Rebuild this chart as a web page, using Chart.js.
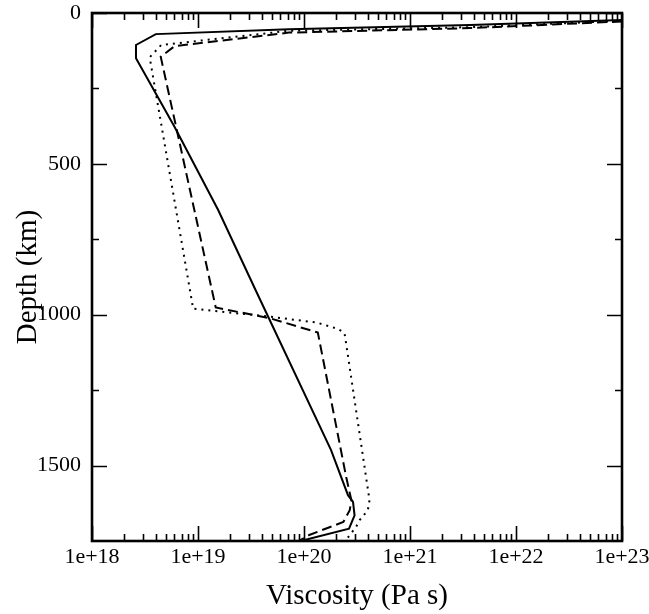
<!DOCTYPE html>
<html><head><meta charset="utf-8">
<script src="https://cdn.jsdelivr.net/npm/chart.js@4/dist/chart.umd.min.js"></script>
<style>html,body{margin:0;padding:0;background:#fff}canvas{display:block}</style>
</head><body>
<canvas id="c" width="649" height="614"></canvas>
<script>
// Axis ticks
const xTickValues = [1e18, 1e19, 1e20, 1e21, 1e22, 1e23];
const xTickLabels = ['1e+18', '1e+19', '1e+20', '1e+21', '1e+22', '1e+23'];
const yTickValues = [0, 500, 1000, 1500];
const yTickLabels = ['0', '500', '1000', '1500'];
const yMinorTicks = [250, 750, 1250];

// Solid profile
const solidVisc  = [1e23, 3.7e21, 7.2e19, 4.0e18, 2.6e18, 2.6e18, 6.0e18, 1.55e19, 3.5e19, 1.8e20, 2.6e20, 2.9e20, 3.0e20, 2.66e20, 9.3e19];
const solidDepth = [23,   40,     54,     70,     106,    150,    377,    653,     919,    1449,   1598,   1620,   1665,   1709,    1750];

// Dashed profile
const dashedVisc  = [1e23, 3.7e21, 7.2e19, 6.0e18, 4.45e18, 1.47e19, 4.8e19, 1.35e20, 2.5e20, 2.8e20, 2.7e20, 2.35e20, 1.12e20, 8.9e19];
const dashedDepth = [28,   50,     65,     110,    145,     976,     1012,   1059,    1538,   1615,   1648,   1687,    1730,    1750];

// Dotted profile
const dottedVisc  = [1e23, 3.7e21, 7.2e19, 4.5e18, 3.5e18, 9.0e18, 4.9e19, 1.32e20, 2.05e20, 2.35e20, 2.43e20, 4.15e20, 4.0e20, 3.35e20, 3.1e20, 2.45e20];
const dottedDepth = [26,   47,     59,     106,    147,    980,    1007,   1026,    1046,    1057,    1068,    1615,    1648,   1681,    1703,   1750];

const toPts = (xs, ys) => xs.map((v, i) => ({x: v, y: ys[i]}));

const frameTicks = {
  id: 'frameTicks',
  afterDatasetsDraw(chart) {
    const {ctx, chartArea: a, scales: {x, y}} = chart;
    ctx.save();
    ctx.strokeStyle = '#000';
    ctx.lineCap = 'butt';
    const MAJ = 15, MIN = 7;
    ctx.lineWidth = 1.6;
    ctx.beginPath();
    const xMinor = [];
    for (let k = 0; k < xTickValues.length - 1; k++) {
      for (let m = 2; m <= 9; m++) xMinor.push(m * xTickValues[k]);
    }
    const xt = xTickValues.map(v => [v, MAJ]).concat(xMinor.map(v => [v, MIN]));
    xt.forEach(([v, L]) => {
      const px = Math.round(x.getPixelForValue(v)) + 0.5;
      ctx.moveTo(px, a.bottom); ctx.lineTo(px, a.bottom - L);
      ctx.moveTo(px, a.top); ctx.lineTo(px, a.top + L);
    });
    const yt = yTickValues.map(v => [v, MAJ]).concat(yMinorTicks.map(v => [v, MIN]));
    yt.forEach(([v, L]) => {
      const py = Math.round(y.getPixelForValue(v)) + 0.5;
      ctx.moveTo(a.left, py); ctx.lineTo(a.left + L, py);
      ctx.moveTo(a.right, py); ctx.lineTo(a.right - L, py);
    });
    ctx.stroke();
    ctx.lineWidth = 2.6;
    ctx.strokeRect(a.left, a.top, a.right - a.left, a.bottom - a.top);
    ctx.restore();
  }
};

const serif = 'Liberation Serif';

new Chart(document.getElementById('c'), {
  type: 'scatter',
  data: {
    datasets: [
      {data: toPts(solidVisc, solidDepth), showLine: true, borderColor: '#000', borderWidth: 2, pointRadius: 0, tension: 0},
      {data: toPts(dashedVisc, dashedDepth), showLine: true, borderColor: '#000', borderWidth: 2, borderDash: [10, 5], pointRadius: 0, tension: 0},
      {data: toPts(dottedVisc, dottedDepth), showLine: true, borderColor: '#000', borderWidth: 2, borderDash: [2, 5], pointRadius: 0, tension: 0}
    ]
  },
  options: {
    responsive: false,
    animation: false,
    layout: {padding: {top: 13, right: 27, left: 0, bottom: 0}},
    plugins: {legend: {display: false}, tooltip: {enabled: false}},
    scales: {
      x: {
        type: 'logarithmic',
        min: 1e18, max: 1e23,
        afterBuildTicks: s => { s.ticks = xTickValues.map(v => ({value: v})); },
        afterFit: s => { s.height = 73; s.paddingLeft = 0; s.paddingRight = 0; },
        grid: {display: false, drawTicks: false},
        border: {display: false},
        ticks: {
          autoSkip: false, maxRotation: 0, padding: 3, color: '#000',
          font: {family: serif, size: 22},
          callback: (v, i) => xTickLabels[i]
        },
        title: {display: true, text: 'Viscosity (Pa s)', color: '#000', font: {family: serif, size: 29}, padding: {top: 0, bottom: 0}}
      },
      y: {
        type: 'linear',
        reverse: true,
        min: 0, max: 1750,
        afterBuildTicks: s => { s.ticks = yTickValues.map(v => ({value: v})); },
        afterFit: s => { s.width = 92; s.paddingTop = 0; s.paddingBottom = 0; },
        grid: {display: false, drawTicks: false},
        border: {display: false},
        ticks: {
          autoSkip: false, padding: 11, color: '#000',
          font: {family: serif, size: 22},
          callback: (v, i) => yTickLabels[i]
        },
        title: {display: true, text: 'Depth (km)', color: '#000', font: {family: serif, size: 29}, padding: {top: 11, bottom: 0}}
      }
    }
  },
  plugins: [frameTicks]
});
</script>
</body></html>
